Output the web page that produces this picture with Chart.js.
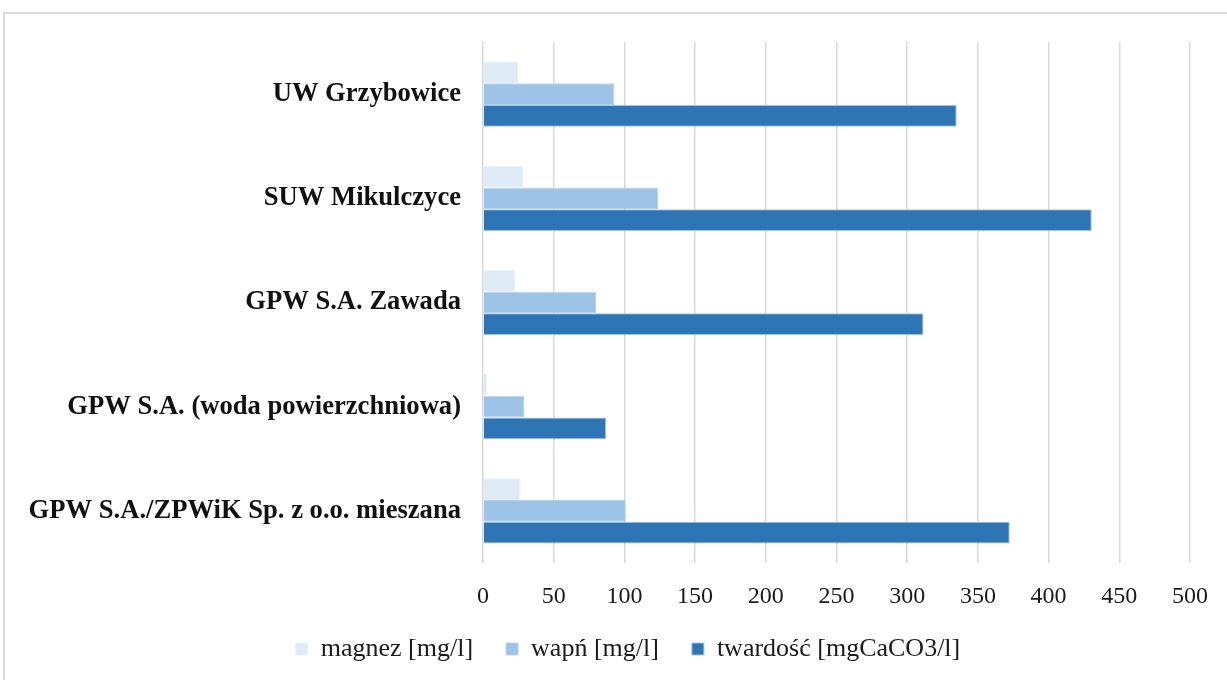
<!DOCTYPE html>
<html>
<head>
<meta charset="utf-8">
<script src="https://cdn.jsdelivr.net/npm/chart.js@4.4.1/dist/chart.umd.min.js"></script>
<style>
html,body{margin:0;padding:0;background:#fff;}
#wrap{position:relative;width:1227px;height:680px;}
</style>
</head>
<body>
<div id="wrap"><canvas id="c" width="1227" height="680"></canvas></div>
<script>
const categories = [
  "UW Grzybowice",
  "SUW Mikulczyce",
  "GPW S.A. Zawada",
  "GPW S.A. (woda powierzchniowa)",
  "GPW S.A./ZPWiK Sp. z o.o. mieszana"
];
const magnez = [25, 28.5, 23, 3, 26.5];
const wapn = [93, 124, 80, 29, 101];
const twardosc = [335, 430.5, 311.5, 87, 372.5];
const xTicks = [0, 50, 100, 150, 200, 250, 300, 350, 400, 450, 500];

const SERIF = '"Liberation Serif", "Times New Roman", serif';

const frame = {
  id: 'frame',
  beforeDraw(chart) {
    const ctx = chart.ctx;
    ctx.save();
    ctx.fillStyle = '#fff';
    ctx.fillRect(0, 0, chart.width, chart.height);
    ctx.strokeStyle = '#d9d9d9';
    ctx.lineWidth = 2;
    ctx.beginPath();
    ctx.moveTo(4, 690);
    ctx.lineTo(4, 13);
    ctx.lineTo(1240, 13);
    ctx.stroke();
    ctx.restore();
  },
  afterLayout(chart) {
    if (chart.legend) {
      chart.legend.left += 33;
      chart.legend.right += 33;
    }
  }
};

new Chart(document.getElementById('c'), {
  type: 'bar',
  data: {
    labels: categories,
    datasets: [
      {label: 'magnez [mg/l]', data: magnez, backgroundColor: '#DEEBF7', borderColor: '#E8F1FA', borderWidth: 1},
      {label: 'wapń [mg/l]', data: wapn, backgroundColor: '#9DC3E6', borderColor: '#B4D2EC', borderWidth: 1},
      {label: 'twardość [mgCaCO3/l]', data: twardosc, backgroundColor: '#2E75B6', borderColor: '#9DC3E6', borderWidth: 1}
    ]
  },
  plugins: [frame],
  options: {
    indexAxis: 'y',
    responsive: false,
    animation: false,
    devicePixelRatio: 1,
    categoryPercentage: 0.626,
    barPercentage: 1.0,
    layout: {padding: {top: 42, right: 37, left: 0, bottom: 8}},
    scales: {
      x: {
        min: 0, max: 500,
        afterBuildTicks(scale) { scale.ticks = xTicks.map(v => ({value: v})); },
        grid: {color: '#D9D9D9', lineWidth: 1.5, drawTicks: false},
        border: {display: false},
        ticks: {padding: 19, color: '#1a1a1a', font: {family: SERIF, size: 24}},
        afterFit(scale) { scale.height = 40; }
      },
      y: {
        grid: {display: false, drawTicks: false},
        border: {display: false},
        ticks: {padding: 22, color: '#111', font: {family: SERIF, size: 26.6, weight: 'bold'}},
        afterFit(scale) { scale.width = 483; }
      }
    },
    plugins: {
      legend: {
        position: 'bottom',
        labels: {
          boxWidth: 12, boxHeight: 12, padding: 33,
          color: '#1a1a1a',
          font: {family: SERIF, size: 26}
        }
      },
      tooltip: {enabled: false}
    }
  }
});
</script>
</body>
</html>
